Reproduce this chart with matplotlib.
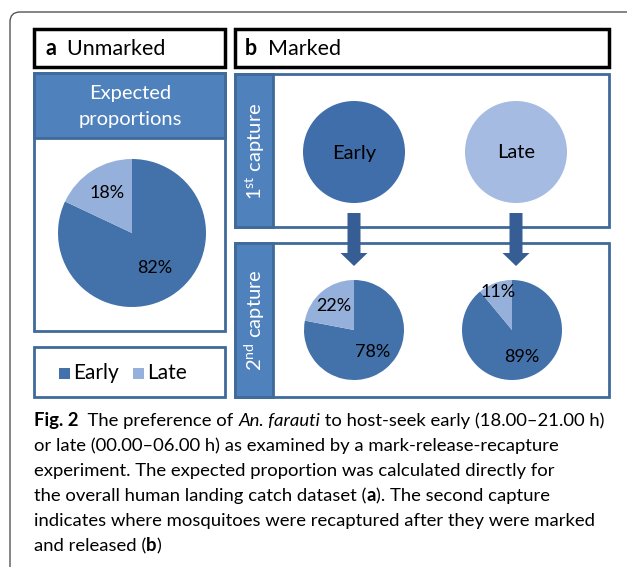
import matplotlib
matplotlib.use("Agg")
import matplotlib.pyplot as plt
from matplotlib.patches import Rectangle, FancyBboxPatch, FancyArrow
import numpy as np

# data
groups = ["Early", "Late"]
expected = [82, 18]
recap_early = [78, 22]
recap_late = [89, 11]
first_capture = ["Early", "Late"]

W, H = 627, 567
early_c = "#4371A9"
late_c = "#95B1DB"
circ_early = "#3F6EAA"
circ_late = "#A6BBE2"
head_blue = "#4F81BD"
border_c = "#3F6A9A"
arrow_c = "#375E94"
FONT = "Lato"

plt.rcParams["font.family"] = [FONT, "DejaVu Sans"]
plt.rcParams["mathtext.fontset"] = "custom"
plt.rcParams["mathtext.rm"] = FONT

fig = plt.figure(figsize=(W / 100, H / 100), dpi=100)
ax = fig.add_axes([0, 0, 1, 1])


def Y(p):
    return H - p


def box(x0, y0, x1, y1, ec, fc="white", lw=2.0, z=1):
    ax.add_patch(Rectangle((x0, Y(y1)), x1 - x0, y1 - y0, fc=fc, ec=ec, lw=lw, zorder=z))


# outer frame with rounded corner
ax.add_patch(FancyBboxPatch((10, -300), 900, Y(12) + 300,
                            boxstyle="round,pad=0,rounding_size=10",
                            fc="none", ec="#555555", lw=1.0, zorder=0))

renderer = fig.canvas.get_renderer()


def width_of(txt, **kw):
    t1 = ax.text(0, 0, txt + "|", **kw)
    t2 = ax.text(0, 0, "|", **kw)
    w = t1.get_window_extent(renderer).width - t2.get_window_extent(renderer).width
    t1.remove()
    t2.remove()
    return w


def runs(x, y, parts, size, color="black"):
    for txt, wt, st in parts:
        kw = dict(fontsize=size, fontweight=wt, fontstyle=st, color=color)
        ax.text(x, Y(y), txt, va="baseline", ha="left", zorder=5, **kw)
        x += width_of(txt, **kw)


# headers
box(34, 29, 225, 67, "black", lw=2.5)
box(235, 29, 609, 67, "black", lw=2.5)
runs(45, 55, [("a", "bold", "normal"), ("  Unmarked", "normal", "normal")], 15.5)
runs(245, 55, [("b", "bold", "normal"), ("  Marked", "normal", "normal")], 15.5)

# panel a: expected proportions
box(34, 73, 225, 331, border_c)
box(34, 73, 225, 138, border_c, fc=head_blue, z=2)
ax.text(130, Y(94), "Expected", color="white", fontsize=14.5, ha="center", va="center", zorder=5)
ax.text(130, Y(119), "proportions", color="white", fontsize=14.5, ha="center", va="center", zorder=5)

pie_colors = [early_c, late_c]


def draw_pie(vals, cx, cy, r, dists):
    wedges, _ = ax.pie(vals, colors=pie_colors, startangle=90, counterclock=False,
                       center=(cx, Y(cy)), radius=r, frame=True,
                       wedgeprops=dict(linewidth=0, zorder=3))
    for w, v, d in zip(wedges, vals, dists):
        ang = np.deg2rad((w.theta1 + w.theta2) / 2)
        ax.text(cx + d * r * np.cos(ang), Y(cy) + d * r * np.sin(ang), f"{v}%",
                fontsize=13, ha="center", va="center", zorder=5)


draw_pie(expected, 132, 233, 74, [0.56, 0.64])

# legend
box(34, 347, 225, 397, border_c)
lx = 59
for g, c in zip(groups, pie_colors):
    ax.add_patch(Rectangle((lx, Y(379)), 11, 11, fc=c, ec="none", zorder=4))
    t = ax.text(lx + 14, Y(373), g, fontsize=15, ha="left", va="center", zorder=5)
    lx += 14 + t.get_window_extent(renderer).width + 14

# panel b
box(235, 74, 609, 227, border_c)
box(235, 74, 273, 227, border_c, fc=head_blue, z=2)
box(235, 243, 609, 397, border_c)
box(235, 243, 273, 397, border_c, fc=head_blue, z=2)
ax.text(255, Y(151), r"1$^{\mathrm{st}}$ capture", color="white", fontsize=14.5,
        rotation=90, ha="center", va="center", zorder=5)
ax.text(255, Y(320), r"2$^{\mathrm{nd}}$ capture", color="white", fontsize=14.5,
        rotation=90, ha="center", va="center", zorder=5)

# first capture circles
for g, c, cx in zip(first_capture, [circ_early, circ_late], [354, 516]):
    ax.pie([100], colors=[c], center=(cx, Y(152)), radius=51, frame=True,
           wedgeprops=dict(linewidth=0, zorder=3))
    ax.text(cx, Y(153), g, fontsize=14.5, ha="center", va="center", zorder=5)
    ax.add_patch(FancyArrow(cx, Y(213), 0, -53, width=13, head_width=27, head_length=13,
                            length_includes_head=True, fc=arrow_c, ec="none", zorder=4))

# second capture pies
draw_pie(recap_early, 354, 330, 50, [0.58, 0.62])
draw_pie(recap_late, 512, 330, 50, [0.58, 0.8])

# caption
cap = [
    [("Fig. 2", "bold", "normal"), ("  The preference of ", "normal", "normal"),
     ("An. farauti", "normal", "italic"), (" to host-seek early (18.00\u201321.00 h)", "normal", "normal")],
    [("or late (00.00\u201306.00 h) as examined by a mark-release-recapture", "normal", "normal")],
    [("experiment. The expected proportion was calculated directly for", "normal", "normal")],
    [("the overall human landing catch dataset (", "normal", "normal"), ("a", "bold", "normal"),
     ("). The second capture", "normal", "normal")],
    [("indicates where mosquitoes were recaptured after they were marked", "normal", "normal")],
    [("and released (", "normal", "normal"), ("b", "bold", "normal"), (")", "normal", "normal")],
]
for i, parts in enumerate(cap):
    runs(34, 426 + 25 * i, parts, 13.3)

ax.set_xlim(0, W)
ax.set_ylim(0, H)
ax.set_aspect("auto")
ax.set_axis_off()
fig.savefig("out.png", dpi=100)
